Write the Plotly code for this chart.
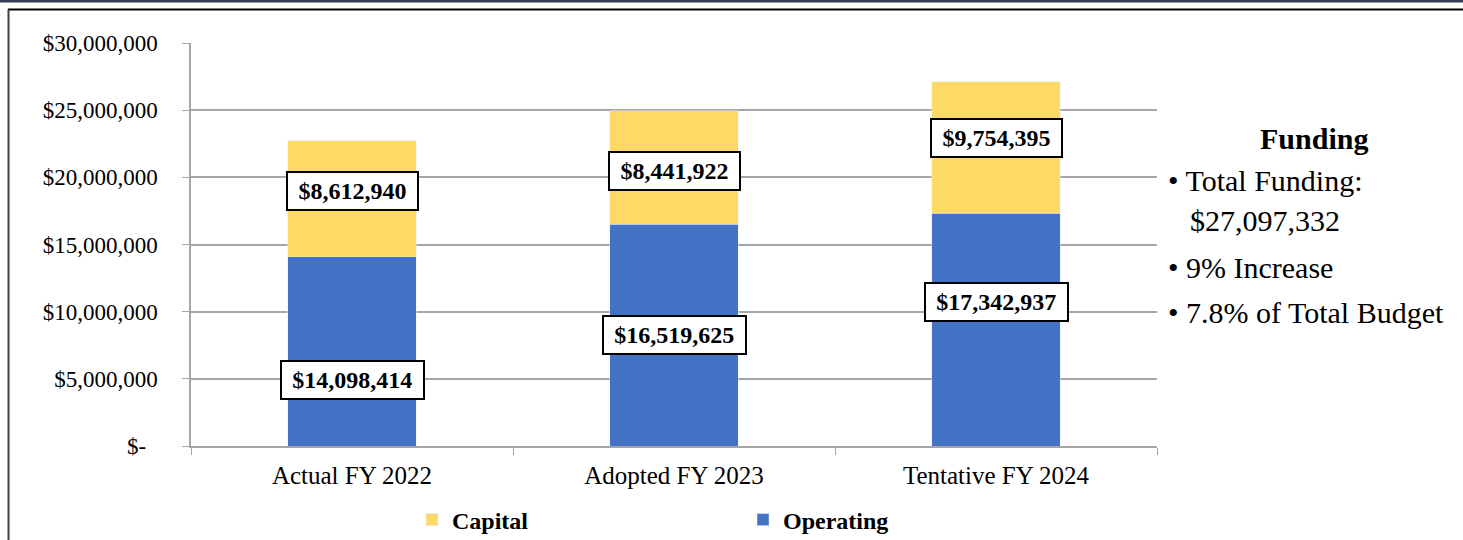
import plotly.graph_objects as go

categories = ["Actual FY 2022", "Adopted FY 2023", "Tentative FY 2024"]
operating = [14098414, 16519625, 17342937]
capital = [8612940, 8441922, 9754395]
tick_vals = [0, 5000000, 10000000, 15000000, 20000000, 25000000, 30000000]
tick_text = ["$-\u00a0\u00a0", "$5,000,000", "$10,000,000", "$15,000,000",
             "$20,000,000", "$25,000,000", "$30,000,000"]
side_title = "Funding"
side_lines = ["\u2022 Total Funding:", "$27,097,332", "\u2022 9% Increase", "\u2022 7.8% of Total Budget"]

# label placement (fraction of each segment's height)
cap_label_frac = [0.57, 0.47, 0.57]
op_label_frac = [0.35, 0.50, 0.62]

W, H = 1463, 540
L, R, T, B = 191, 306, 43, 94
PW, PH = W - L - R, H - T - B

def px(x):
    return (x - L) / PW

def py(y):
    return (H - B - y) / PH

FONT = "Liberation Serif, Times New Roman, serif"
BLUE = "#4472C4"
GOLD = "#FFD966"

fig = go.Figure()
fig.add_trace(go.Bar(x=categories, y=operating, name="Operating", marker_color=BLUE, width=0.4))
fig.add_trace(go.Bar(x=categories, y=capital, name="Capital", marker_color=GOLD, width=0.4))

def money(v):
    return "${:,}".format(v)

for i, c in enumerate(categories):
    for val, base, frac in ((capital[i], operating[i], cap_label_frac[i]),
                            (operating[i], 0, op_label_frac[i])):
        t = money(val)
        fig.add_annotation(x=c, y=base + frac * val, text="<b>" + t + "</b>",
                           showarrow=False, font=dict(family=FONT, size=24, color="black"),
                           bgcolor="white", bordercolor="black", borderwidth=2, borderpad=2,
                           width=len(t) * 11.7 + 8, height=32, align="center")

fig.add_annotation(xref="paper", yref="paper", x=px(1314), y=py(138), text="<b>" + side_title + "</b>",
                   showarrow=False, xanchor="center", yanchor="middle",
                   font=dict(family=FONT, size=30, color="black"))
line_pos = [(1166, 180), (1188, 221), (1166, 267), (1166, 312)]
for txt, (lx, ly) in zip(side_lines, line_pos):
    fig.add_annotation(xref="paper", yref="paper", x=px(lx), y=py(ly), text=txt,
                       showarrow=False, xanchor="left", yanchor="middle",
                       font=dict(family=FONT, size=30, color="black"))

# frame lines
fig.add_shape(type="rect", xref="paper", yref="paper", x0=px(0), x1=px(W), y0=py(0), y1=py(2.5),
              fillcolor="#333F50", line_width=0, layer="above")
fig.add_shape(type="line", xref="paper", yref="paper", x0=px(8), x1=px(W), y0=py(9.5), y1=py(9.5),
              line=dict(color="black", width=2), layer="above")
fig.add_shape(type="line", xref="paper", yref="paper", x0=px(8.5), x1=px(8.5), y0=py(9.5), y1=py(H),
              line=dict(color="#404040", width=2), layer="above")

fig.update_layout(
    barmode="stack",
    width=W, height=H, autosize=False,
    margin=dict(l=L, r=R, t=T, b=B, autoexpand=False),
    paper_bgcolor="white", plot_bgcolor="white",
    font=dict(family=FONT, color="black"),
    legend=dict(orientation="h", traceorder="reversed", x=px(412), y=py(520), xanchor="left",
                yanchor="middle", entrywidth=286, entrywidthmode="pixels",
                font=dict(family=FONT, size=24, color="black", weight="bold")),
    xaxis=dict(range=[-0.5, 2.5], showline=True, linecolor="#A6A6A6", linewidth=1.5,
               ticks="outside", ticklen=7, tickcolor="#A6A6A6", tickson="boundaries",
               tickfont=dict(family=FONT, size=25, color="black"), ticklabelstandoff=6,
               showgrid=False),
    yaxis=dict(range=[0, 30000000], tickvals=tick_vals, ticktext=tick_text,
               showgrid=True, gridcolor="#A6A6A6", gridwidth=1.5,
               showline=True, linecolor="#A6A6A6", linewidth=1.5,
               ticks="outside", ticklen=7, tickcolor="#A6A6A6",
               tickfont=dict(family=FONT, size=23, color="black"), ticklabelstandoff=20,
               zeroline=False),
    bargap=0.6,
)

fig.write_html("out.html", config={"displayModeBar": False},
               post_script="document.body.style.margin='0';")
